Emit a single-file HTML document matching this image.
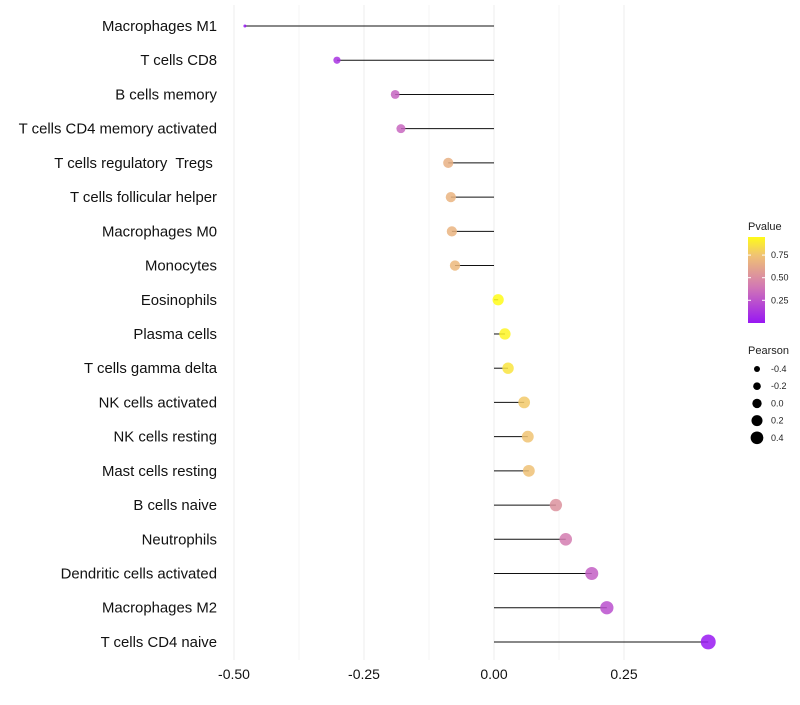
<!DOCTYPE html>
<html><head><meta charset="utf-8"><style>body{margin:0;background:#fff}svg{font-family:"Liberation Sans",sans-serif}text{white-space:pre}</style></head>
<body>
<svg id="c" width="800" height="700"></svg>
<script>
const categories=["Macrophages M1","T cells CD8","B cells memory","T cells CD4 memory activated","T cells regulatory  Tregs ","T cells follicular helper","Macrophages M0","Monocytes","Eosinophils","Plasma cells","T cells gamma delta","NK cells activated","NK cells resting","Mast cells resting","B cells naive","Neutrophils","Dendritic cells activated","Macrophages M2","T cells CD4 naive"];
const pearson=[-0.479,-0.302,-0.19,-0.179,-0.088,-0.083,-0.081,-0.075,0.008,0.021,0.027,0.058,0.065,0.067,0.119,0.138,0.188,0.217,0.412];
const pvalue=[0.01,0.12,0.32,0.33,0.66,0.68,0.68,0.7,0.96,0.93,0.87,0.77,0.75,0.74,0.52,0.42,0.3,0.24,0.02];
const xTicks=[-0.5,-0.25,0,0.25];
const xTickLabels=["-0.50","-0.25","0.00","0.25"];
const legendP=[0.25,0.5,0.75];
const legendPearson=[-0.4,-0.2,0.0,0.2,0.4];
const NS="http://www.w3.org/2000/svg",svg=document.getElementById('c');
const X=v=>494+v*520, Y=i=>26+i*34.22, R=v=>Math.sqrt(2.25+60*Math.max(0,v+0.48));
const stops=[[0,[150,20,245]],[0.4,[210,120,180]],[0.75,[240,195,115]],[0.95,[255,250,30]],[1,[255,255,0]]];
function col(p){for(let k=1;k<stops.length;k++){if(p<=stops[k][0]){const a=stops[k-1],b=stops[k],t=(p-a[0])/(b[0]-a[0]);return 'rgb('+a[1].map((c,j)=>Math.round(c+(b[1][j]-c)*t)).join(',')+')';}}return 'rgb(255,255,0)';}
function el(t,a,txt){const e=document.createElementNS(NS,t);for(const k in a)e.setAttribute(k,a[k]);if(txt!==undefined)e.textContent=txt;svg.appendChild(e);return e;}
xTicks.forEach((v,i)=>{let g=el('line',{x1:X(v),x2:X(v),y1:5,y2:660,stroke:'#ececec','stroke-width':1});


if(i<xTicks.length-1){let m=el('line',{x1:X(v+0.125),x2:X(v+0.125),y1:5,y2:660,stroke:'#f5f5f5','stroke-width':1});

}
let t=el('text',{x:X(v),y:679,'font-size':14,'text-anchor':'middle',fill:'#111'},xTickLabels[i]);

});
categories.forEach((c,i)=>{
let t=el('text',{x:217,y:Y(i)+5,'font-size':14.9,'text-anchor':'end',fill:'#111'},c);


let l=el('line',{x1:X(0),x2:X(pearson[i]),y1:Y(i),y2:Y(i),stroke:'#111','stroke-width':1});


let d=el('circle',{cx:X(pearson[i]),cy:Y(i),r:R(pearson[i]),fill:col(pvalue[i]),'fill-opacity':0.85});

});
let lt=el('text',{x:748,y:230,'font-size':11,fill:'#222'},'Pvalue');


const gd=el('defs',{});gd.innerHTML='<linearGradient id="g" x1="0" y1="1" x2="0" y2="0"><stop offset="0" stop-color="'+col(0.01)+'"/><stop offset="0.42" stop-color="'+col(0.4)+'"/><stop offset="0.79" stop-color="'+col(0.75)+'"/><stop offset="1" stop-color="'+col(0.96)+'"/></linearGradient>';
let bar=el('rect',{x:748,y:237,width:17,height:86,fill:'url(#g)'});


legendP.forEach(p=>{const y=322-(p-0.01)*(85/0.94);
el('line',{x1:748,x2:751,y1:y,y2:y,stroke:'#fff'});el('line',{x1:762,x2:765,y1:y,y2:y,stroke:'#fff'});
let t=el('text',{x:771,y:y+3,'font-size':9,fill:'#222'},p.toFixed(2));

});
let pt=el('text',{x:748,y:354,'font-size':11,fill:'#222'},'Pearson');


legendPearson.forEach((v,i)=>{const y=369+i*17.2;
let c=el('circle',{cx:757,cy:y,r:3+(v+0.4)*4.2,fill:'#000'});


let t=el('text',{x:771,y:y+3,'font-size':9,fill:'#222'},v.toFixed(1));

});
</script>
</body></html>
